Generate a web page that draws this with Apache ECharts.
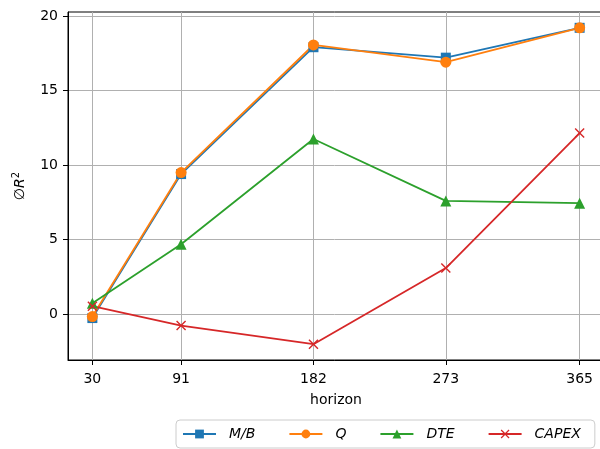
<!DOCTYPE html>
<html><head><meta charset="utf-8">
<script src="https://cdn.jsdelivr.net/npm/echarts@6/dist/echarts.min.js"></script>
<style>html,body{margin:0;padding:0;background:#fff}#c{width:600px;height:449px}</style>
</head><body><div id="c"></div>
<script>
const horizons = [30, 91, 182, 273, 365];
const seriesNames = ['M/B', 'Q', 'DTE', 'CAPEX'];
const mbValues = [-0.25, 9.4, 17.9, 17.2, 19.2];
const qValues = [-0.15, 9.5, 18.05, 16.9, 19.2];
const dteValues = [0.75, 4.7, 11.75, 7.6, 7.45];
const capexValues = [0.55, -0.75, -2.0, 3.1, 12.15];
const yTicks = [0, 5, 10, 15, 20];

const colors = ['#1f77b4', '#ff7f0e', '#2ca02c', '#d62728'];
const symbols = ['rect', 'circle', 'triangle',
  'path://M0,1L1,0L5,4L9,0L10,1L6,5L10,9L9,10L5,6L1,10L0,9L4,5Z'];
const sizes = [10, 11, 11, 10];
const allVals = [mbValues, qValues, dteValues, capexValues];
const font = 'DejaVu Sans';

const chart = echarts.init(document.getElementById('c'), null, {renderer: 'canvas'});
const series = seriesNames.map((n, i) => ({
  name: n, type: 'line',
  data: horizons.map((h, j) => [h, allVals[i][j]]),
  symbol: symbols[i], symbolSize: sizes[i],
  lineStyle: {color: colors[i], width: 1.8},
  itemStyle: {color: colors[i], borderWidth: 0},
  showAllSymbol: true,
  animation: false
}));

const xmin = 30 - 0.05 * (365 - 30), xmax = 365 + 0.05 * (365 - 30);
chart.setOption({
  animation: false,
  color: colors,
  grid: {left: 68, top: 12, right: -4, bottom: 89, containLabel: false, outerBoundsMode: 'none',
         show: true, borderColor: '#000', borderWidth: 1, backgroundColor: 'transparent'},
  xAxis: {
    type: 'value', min: xmin, max: xmax,
    name: 'horizon', nameLocation: 'middle', nameGap: 33,
    nameTextStyle: {fontFamily: font, fontSize: 14, color: '#000'},
    axisLine: {show: true, onZero: false, lineStyle: {color: '#000', width: 1}},
    axisTick: {show: true, length: 5, lineStyle: {color: '#000'}, customValues: horizons},
    axisLabel: {customValues: horizons, margin: 12, fontFamily: font, fontSize: 14, color: '#000'},
    splitLine: {show: true, lineStyle: {color: '#b0b0b0', width: 1}}
  },
  yAxis: {
    type: 'value', min: -3.06, max: 20.26,
    name: '{a|∅R}{s|2}', nameLocation: 'middle', nameGap: 39,
    nameTextStyle: {fontFamily: font, fontSize: 14, color: '#000',
      rich: {a: {fontFamily: font, fontSize: 14, fontStyle: 'italic'},
             s: {fontFamily: font, fontSize: 10, verticalAlign: 'top', padding: [0,0,8,0]}}},
    axisLine: {show: true, onZero: false, lineStyle: {color: '#000', width: 1}},
    axisTick: {show: true, length: 5, lineStyle: {color: '#000'}, customValues: yTicks},
    axisLabel: {customValues: yTicks, margin: 10, fontFamily: font, fontSize: 14, color: '#000'},
    splitLine: {show: true, lineStyle: {color: '#b0b0b0', width: 1}}
  },
  legend: {
    left: 176, top: 420, padding: [7, 14, 7, 6],
    itemWidth: 33, itemHeight: 11, itemGap: 33,
    borderColor: '#cccccc', borderWidth: 1, borderRadius: 4,
    textStyle: {fontFamily: font, fontSize: 14, fontStyle: 'italic', color: '#000', padding: [0,0,0,8]},
    data: seriesNames
  },
  series: series
});
</script></body></html>
